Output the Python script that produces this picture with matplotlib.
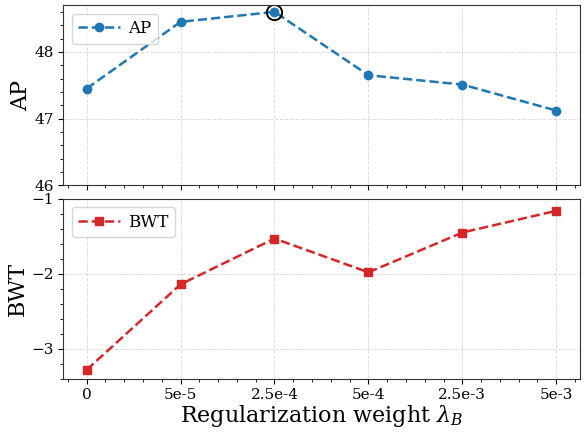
import matplotlib
matplotlib.use('Agg')
from matplotlib import pyplot as plt
from matplotlib.ticker import AutoMinorLocator

plt.rcParams['font.family'] = 'DejaVu Serif'
plt.rcParams['mathtext.fontset'] = 'dejavuserif'

weights = ['0', '5e-5', '2.5e-4', '5e-4', '2.5e-3', '5e-3']
ap = [47.45, 48.45, 48.60, 47.65, 47.51, 47.12]
bwt = [-3.28, -2.14, -1.53, -1.98, -1.45, -1.16]
best_idx = 2

fig, (ax1, ax2) = plt.subplots(2, 1, figsize=(5.85, 4.32), dpi=100, sharex=True)
fig.subplots_adjust(left=0.108, right=0.991, top=0.988, bottom=0.123, hspace=0.075)

x = list(range(len(weights)))

ax1.plot(x, ap, color='#1f77b4', linestyle='--', linewidth=1.8, marker='o', markersize=6, label='AP')
ax1.plot(x[best_idx], ap[best_idx], marker='o', markersize=11, markerfacecolor='none',
         markeredgecolor='black', markeredgewidth=1.4, linestyle='none')
ax1.set_ylim(46, 48.7)
ax1.set_yticks([46, 47, 48])
ax1.set_ylabel('AP', fontsize=16, labelpad=2)

ax2.plot(x, bwt, color='#d62728', linestyle='--', linewidth=1.8, marker='s', markersize=6, label='BWT')
ax2.set_ylim(-3.4, -1)
ax2.set_yticks([-3, -2, -1])
ax2.set_ylabel('BWT', fontsize=16, labelpad=2)
ax2.set_xlabel(r'Regularization weight $\lambda_B$', fontsize=16, labelpad=1)
ax2.set_xticks(x)
ax2.set_xticklabels(weights)
ax2.set_xlim(-0.25, 5.25)

for ax in (ax1, ax2):
    ax.grid(True, linestyle='--', color='#dddddd', linewidth=0.7)
    ax.set_axisbelow(True)
    ax.xaxis.set_minor_locator(AutoMinorLocator(5))
    ax.yaxis.set_minor_locator(AutoMinorLocator(5))
    ax.tick_params(axis='both', which='major', labelsize=11, length=3.5, pad=3, direction='out')
    ax.tick_params(axis='both', which='minor', length=2)
    for s in ax.spines.values():
        s.set_color('#333333')
    ax.legend(loc='upper left', fontsize=12, handlelength=2.5, handletextpad=0.5)

plt.savefig('out.png', dpi=100)
